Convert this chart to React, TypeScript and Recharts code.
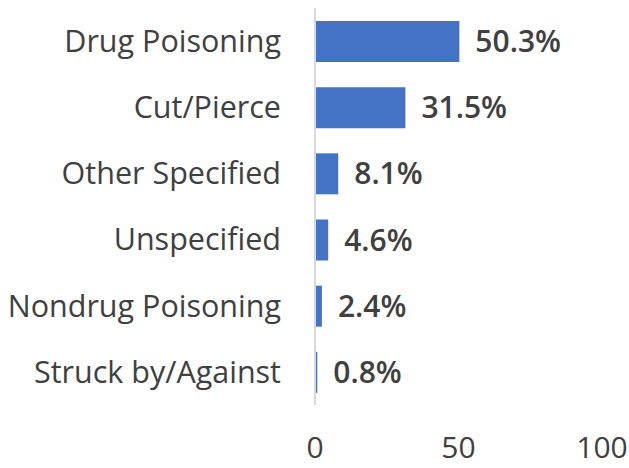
import { BarChart, Bar, XAxis, YAxis, LabelList } from "recharts";

const categories = [
  "Drug Poisoning",
  "Cut/Pierce",
  "Other Specified",
  "Unspecified",
  "Nondrug Poisoning",
  "Struck by/Against",
];
const shares = [50.3, 31.5, 8.1, 4.6, 2.4, 0.8];
const xTicks = [0, 50, 100];

const data = categories.map((name, i) => ({ name, value: shares[i] }));

const FONT = "'Open Sans', 'Noto Sans', sans-serif";

export default function App() {
  return (
    <div style={{ position: "absolute", left: 0, top: 0, background: "#fff" }}>
      <BarChart
        width={629}
        height={468}
        data={data}
        layout="vertical"
        margin={{ top: 8, right: 27, bottom: 0, left: 0 }}
        barSize={41}
      >
        <XAxis
          type="number"
          domain={[0, 100]}
          ticks={xTicks}
          axisLine={false}
          tickLine={false}
          tickSize={0}
          tickMargin={32}
          height={63}
          tick={{ fill: "#404040", fontSize: 30, fontFamily: FONT }}
          interval={0}
        />
        <YAxis
          type="category"
          dataKey="name"
          width={315}
          axisLine={{ stroke: "#d9d9d9", strokeWidth: 2 }}
          tickLine={false}
          tickSize={0}
          tickMargin={34}
          interval={0}
          tick={{ fill: "#404040", fontSize: 30.5, fontFamily: FONT }}
        />
        <Bar dataKey="value" fill="#4472c4" isAnimationActive={false}>
          <LabelList
            dataKey="value"
            position="right"
            offset={16}
            formatter={(v: number) => `${v.toFixed(1)}%`}
            style={{ fill: "#404040", fontSize: 30, fontWeight: 600, fontFamily: FONT }}
          />
        </Bar>
      </BarChart>
    </div>
  );
}
